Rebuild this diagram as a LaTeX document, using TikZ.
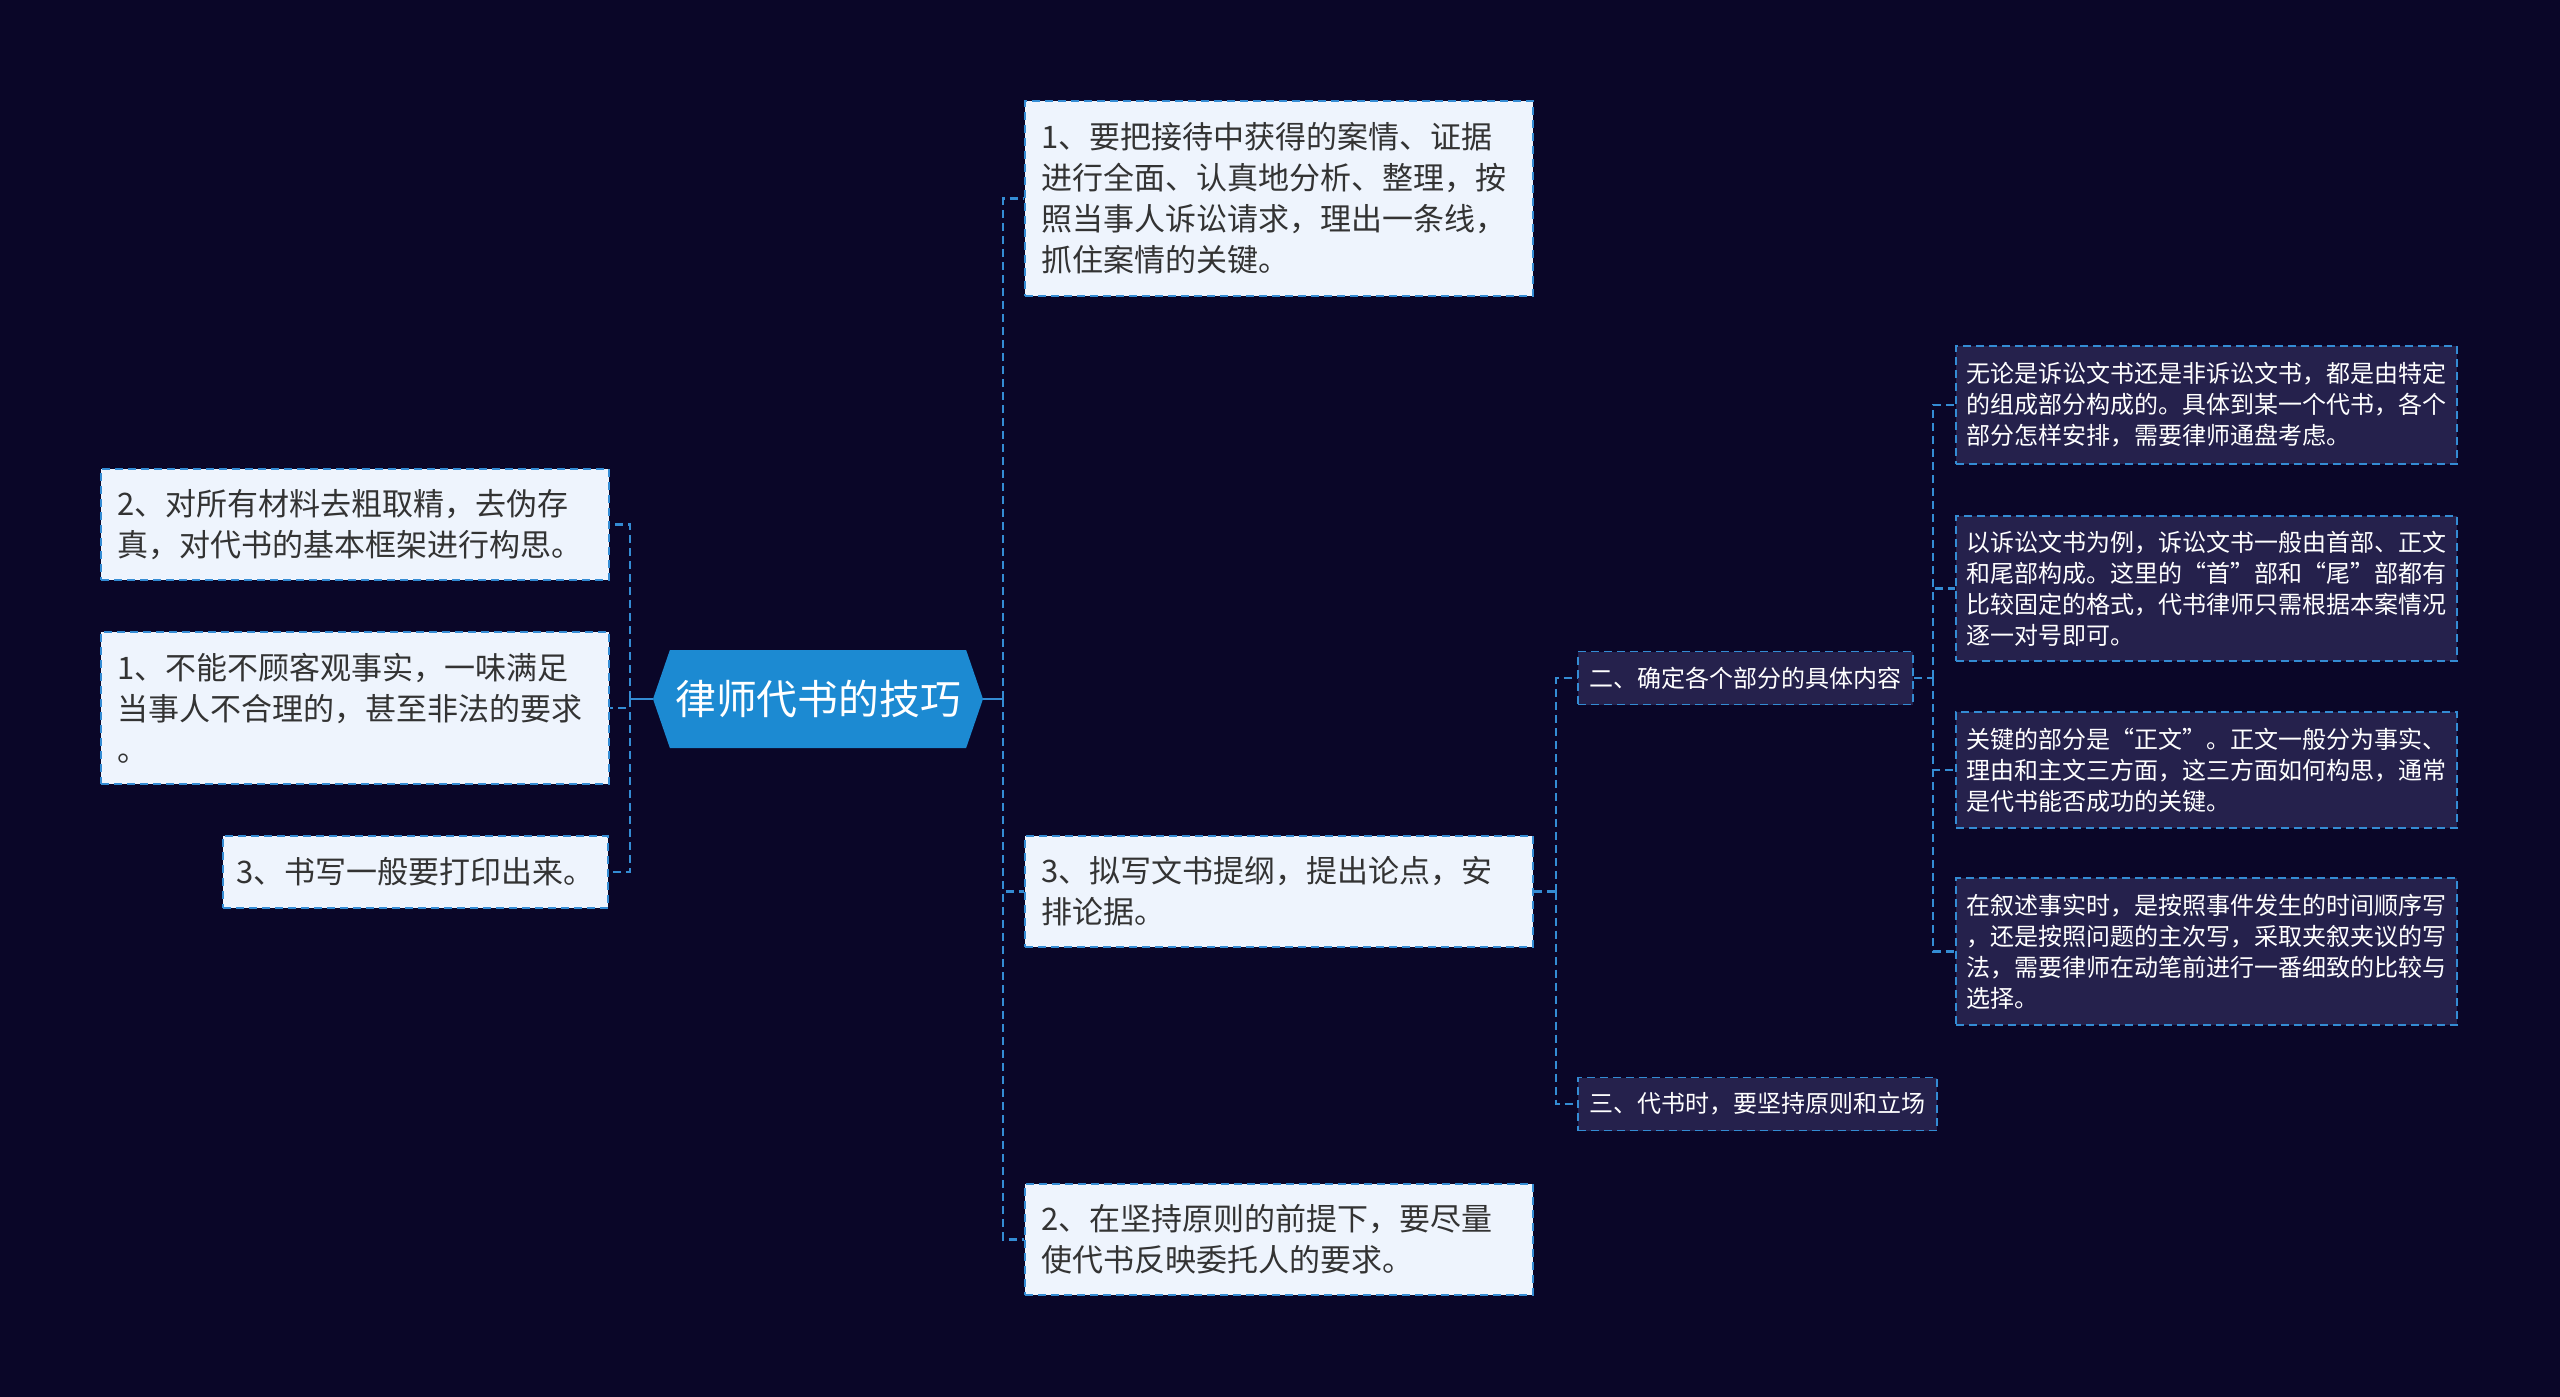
\documentclass[tikz,border=0pt]{standalone}
\usepackage{fontspec}
\setmainfont{Noto Sans CJK SC}
\usepackage{tikz}
\usetikzlibrary{shapes.symbols}

\definecolor{bgc}{RGB}{10,6,40}
\definecolor{corec}{RGB}{28,138,210}
\definecolor{linec}{RGB}{52,140,212}
\definecolor{leaffill}{RGB}{238,244,253}
\definecolor{leaftext}{RGB}{51,51,51}
\definecolor{notefill}{RGB}{37,33,76}

\begin{document}
\begin{tikzpicture}[x=0.5pt,y=-0.5pt,
    core/.style={signal, signal to=west and east, signal pointer angle=142,
        fill=corec, text=white, font=\fontsize{20.4}{24}\selectfont,
        minimum width=165pt, minimum height=49pt, inner xsep=2pt},
    leaf/.style={draw=linec, fill=leaffill, text=leaftext, line width=0.9pt,
        dash pattern=on 4pt off 2.5pt, font=\fontsize{15.5}{20.5}\selectfont,
        align=left, inner xsep=8pt, text width=238pt},
    note/.style={draw=linec, fill=notefill, text=white, line width=0.9pt,
        dash pattern=on 4pt off 2.5pt, font=\fontsize{12}{15.5}\selectfont,
        align=left, inner xsep=5pt, text width=240.5pt},
    sub/.style={note, text width=, inner xsep=5.75pt, minimum height=26.5pt, anchor=west},
    stem/.style={draw=linec, line width=1.2pt},
    link/.style={draw=linec, line width=1.2pt, dash pattern=on 4pt off 2.5pt}]

    \fill[bgc] (0,0) rectangle (2560,1397);
    \useasboundingbox (0,0) rectangle (2560,1397);

    \node[core] (core) at (818,699) {律师代书的技巧};

    % right side
    \node[leaf, minimum height=97.5pt] (r1) at (1279,198.5) {1、要把接待中获得的案情、证据\\进行全面、认真地分析、整理，按\\照当事人诉讼请求，理出一条线，\\抓住案情的关键。};
    \node[leaf, minimum height=55.5pt] (r3) at (1279,891.5) {3、拟写文书提纲，提出论点，安\\排论据。};
    \node[leaf, minimum height=55.5pt] (r2) at (1279,1239.5) {2、在坚持原则的前提下，要尽量\\使代书反映委托人的要求。};

    % left side
    \node[leaf, minimum height=55.5pt] (l2) at (355,524.5) {2、对所有材料去粗取精，去伪存\\真，对代书的基本框架进行构思。};
    \node[leaf, minimum height=76pt] (l1) at (355,708) {1、不能不顾客观事实，一味满足\\当事人不合理的，甚至非法的要求\\。};
    \node[leaf, text width=, inner xsep=6pt, minimum width=192.5pt, minimum height=36pt, anchor=east] (l3) at (609,872) {3、书写一般要打印出来。};

    % third level
    \node[sub] (s2) at (1577,678) {二、确定各个部分的具体内容};
    \node[sub] (s3) at (1577,1104) {三、代书时，要坚持原则和立场};

    \node[note, minimum height=59pt] (t1) at (2206.5,405) {无论是诉讼文书还是非诉讼文书，都是由特定\\的组成部分构成的。具体到某一个代书，各个\\部分怎样安排，需要律师通盘考虑。};
    \node[note, minimum height=72.5pt] (t2) at (2206.5,588.5) {以诉讼文书为例，诉讼文书一般由首部、正文\\和尾部构成。这里的“首”部和“尾”部都有\\比较固定的格式，代书律师只需根据本案情况\\逐一对号即可。};
    \node[note, minimum height=58pt] (t3) at (2206.5,770) {关键的部分是“正文”。正文一般分为事实、\\理由和主文三方面，这三方面如何构思，通常\\是代书能否成功的关键。};
    \node[note, minimum height=73.5pt] (t4) at (2206.5,951.5) {在叙述事实时，是按照事件发生的时间顺序写\\，还是按照问题的主次写，采取夹叙夹议的写\\法，需要律师在动笔前进行一番细致的比较与\\选择。};

    % connectors
    \coordinate (rj) at (1003,699);
    \coordinate (lj) at (630,699);
    \coordinate (sj) at (1556,891.5);
    \coordinate (tj) at (1933,678);

    \draw[stem] (core.east) -- (rj);
    \draw[link] (rj) |- (r1.west);
    \draw[link] (rj) |- (r3.west);
    \draw[link] (rj) |- (r2.west);

    \draw[stem] (core.west) -- (lj);
    \draw[link] (lj) |- (l2.east);
    \draw[link] (lj) |- (l1.east);
    \draw[link] (lj) |- (l3.east);

    \draw[link] (r3.east) -- (sj);
    \draw[link] (sj) |- (s2.west);
    \draw[link] (sj) |- (s3.west);

    \draw[link] (s2.east) -- (tj);
    \draw[link] (tj) |- (t1.west);
    \draw[link] (tj) |- (t2.west);
    \draw[link] (tj) |- (t3.west);
    \draw[link] (tj) |- (t4.west);
\end{tikzpicture}
\end{document}
